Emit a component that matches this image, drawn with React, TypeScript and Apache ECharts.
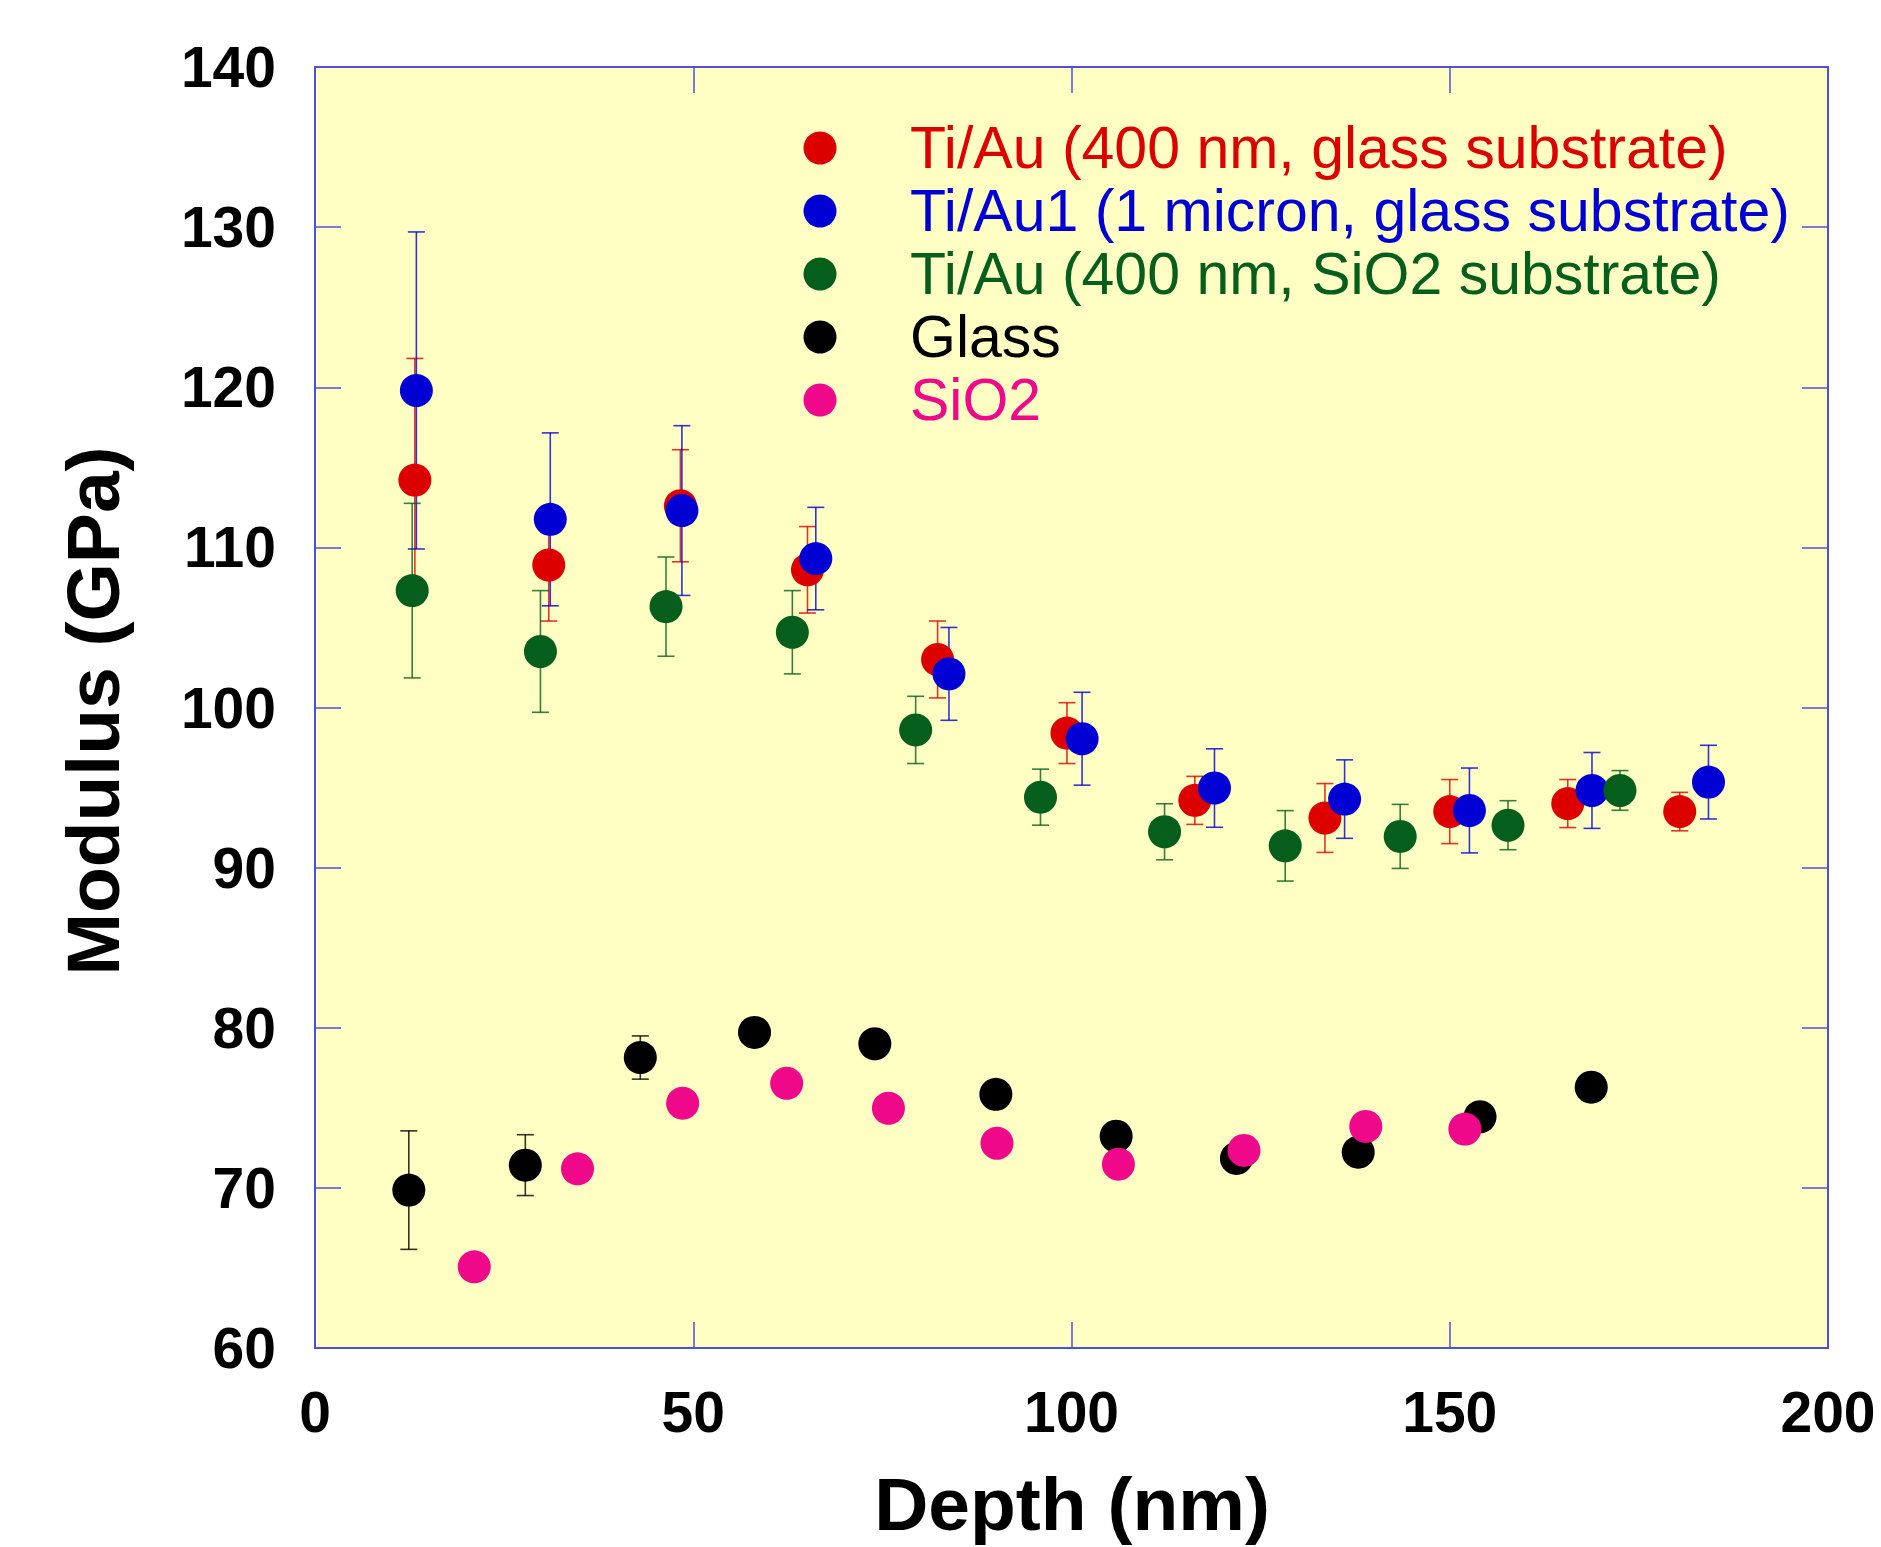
import React, { useEffect, useRef } from "react";
import * as echarts from "echarts";

// ---- Data ----
const seriesNames = [
  "Ti/Au (400 nm, glass substrate)",
  "Ti/Au1 (1 micron, glass substrate)",
  "Ti/Au (400 nm, SiO2 substrate)",
  "Glass",
  "SiO2",
];
const seriesColors = ["#DD0000", "#0000D4", "#065E1C", "#000000", "#F0088A"];

const tiAuGlassDepth = [13.2, 30.9, 48.3, 65.1, 82.3, 99.4, 116.3, 133.5, 150.0, 165.6, 180.4];
const tiAuGlassModulus = [114.2, 108.9, 112.6, 108.6, 103.0, 98.4, 94.2, 93.1, 93.5, 94.0, 93.5];
const tiAuGlassError = [7.6, 3.5, 3.5, 2.7, 2.4, 1.9, 1.5, 2.15, 2.0, 1.5, 1.2];

const tiAu1GlassDepth = [13.4, 31.1, 48.5, 66.2, 83.8, 101.4, 118.9, 136.1, 152.6, 168.8, 184.2];
const tiAu1GlassModulus = [119.8, 111.75, 112.3, 109.3, 102.1, 98.05, 94.97, 94.28, 93.57, 94.82, 95.34];
const tiAu1GlassError = [9.9, 5.4, 5.3, 3.2, 2.9, 2.9, 2.45, 2.45, 2.65, 2.37, 2.3];

const tiAuSiO2Depth = [12.85, 29.8, 46.4, 63.1, 79.4, 95.9, 112.3, 128.25, 143.45, 157.7, 172.5];
const tiAuSiO2Modulus = [107.3, 103.5, 106.3, 104.7, 98.6, 94.4, 92.24, 91.36, 91.95, 92.65, 94.82];
const tiAuSiO2Error = [5.45, 3.8, 3.1, 2.6, 2.1, 1.75, 1.75, 2.2, 2.0, 1.53, 1.24];

const glassDepth = [12.4, 27.8, 43.0, 58.1, 74.0, 90.0, 105.9, 121.8, 137.9, 154.0, 168.7];
const glassModulus = [69.86, 71.42, 78.14, 79.71, 79.0, 75.84, 73.23, 71.84, 72.23, 74.44, 76.29];
const glassError = [3.7, 1.9, 1.35, 0, 0, 0, 0, 0, 0, 0, 0];

const sio2Depth = [21.05, 34.7, 48.6, 62.35, 75.8, 90.15, 106.2, 122.8, 138.9, 152.0];
const sio2Modulus = [65.07, 71.19, 75.29, 76.53, 74.97, 72.79, 71.48, 72.34, 73.84, 73.67];
const sio2Error = [0, 0, 0, 0, 0, 0, 0, 0, 0, 0];

const xTicks = [0, 50, 100, 150, 200];
const yTicks = [60, 70, 80, 90, 100, 110, 120, 130, 140];

const xTitle = "Depth (nm)";
const yTitle = "Modulus (GPa)";

const allDepth = [tiAuGlassDepth, tiAu1GlassDepth, tiAuSiO2Depth, glassDepth, sio2Depth];
const allModulus = [tiAuGlassModulus, tiAu1GlassModulus, tiAuSiO2Modulus, glassModulus, sio2Modulus];
const allError = [tiAuGlassError, tiAu1GlassError, tiAuSiO2Error, glassError, sio2Error];

const FONT = '"Liberation Sans", Arial, Helvetica, sans-serif';
const FRAME = "#4F4FD8";

function makeErrorSeries(xs: number[], ys: number[], es: number[], color: string) {
  return {
    type: "custom",
    xAxisIndex: 0,
    yAxisIndex: 0,
    silent: true,
    encode: { x: 0, y: 1 },
    data: xs.map((x, i) => [x, ys[i], es[i]]).filter((d) => d[2] > 0),
    renderItem: (params: any, api: any) => {
      const x = api.value(0);
      const y = api.value(1);
      const e = api.value(2);
      const top = api.coord([x, y + e]);
      const bot = api.coord([x, y - e]);
      const hw = 8.5;
      const style = { stroke: color, lineWidth: 1.6, opacity: 0.8 };
      return {
        type: "group",
        children: [
          { type: "line", shape: { x1: top[0], y1: top[1], x2: bot[0], y2: bot[1] }, style },
          { type: "line", shape: { x1: top[0] - hw, y1: top[1], x2: top[0] + hw, y2: top[1] }, style },
          { type: "line", shape: { x1: bot[0] - hw, y1: bot[1], x2: bot[0] + hw, y2: bot[1] }, style },
        ],
      };
    },
  };
}

export default function App() {
  const ref = useRef<HTMLDivElement>(null);

  useEffect(() => {
    document.body.style.margin = "0";
    if (!ref.current) return;
    const chart = echarts.init(ref.current, undefined, { renderer: "svg" });

    const series: any[] = [];
    for (let k = 0; k < seriesNames.length; k++) {
      series.push(makeErrorSeries(allDepth[k], allModulus[k], allError[k], seriesColors[k]));
      series.push({
        type: "scatter",
        name: seriesNames[k],
        xAxisIndex: 0,
        yAxisIndex: 0,
        symbol: "circle",
        symbolSize: 33,
        itemStyle: { color: seriesColors[k], opacity: 1 },
        data: allDepth[k].map((x, i) => [x, allModulus[k][i]]),
      });
    }

    const legendRowY = [148, 211, 274, 337, 400];
    const legendGraphics: any[] = [];
    seriesNames.forEach((name, i) => {
      legendGraphics.push({
        type: "circle",
        shape: { cx: 820, cy: legendRowY[i], r: 16.5 },
        style: { fill: seriesColors[i] },
        z: 100,
      });
      legendGraphics.push({
        type: "text",
        x: 910,
        y: legendRowY[i],
        z: 100,
        style: {
          text: name,
          fill: seriesColors[i],
          font: `59px ${FONT}`,
          textAlign: "left",
          textVerticalAlign: "middle",
          align: "left",
          verticalAlign: "middle",
        },
      });
    });

    const baseAxis = {
      type: "value",
      axisLine: { show: true, onZero: false, lineStyle: { color: FRAME, width: 2 } },
      axisTick: { show: true, inside: true, length: 26, lineStyle: { color: FRAME, width: 1.5 } },
      splitLine: { show: false },
    };

    const option: any = {
      animation: false,
      backgroundColor: "#FFFFFF",
      grid: {
        left: 315,
        top: 67,
        width: 1513,
        height: 1281,
        show: true,
        backgroundColor: "#FFFFC4",
        borderWidth: 0,
      },
      xAxis: [
        {
          ...baseAxis,
          position: "bottom",
          min: xTicks[0],
          max: xTicks[xTicks.length - 1],
          interval: xTicks[1] - xTicks[0],
          axisLabel: {
            show: true,
            margin: 35,
            color: "#000",
            fontSize: 57,
            fontWeight: "bold",
            fontFamily: FONT,
          },
        },
        {
          ...baseAxis,
          position: "top",
          min: xTicks[0],
          max: xTicks[xTicks.length - 1],
          interval: xTicks[1] - xTicks[0],
          axisLabel: { show: false },
        },
      ],
      yAxis: [
        {
          ...baseAxis,
          position: "left",
          min: yTicks[0],
          max: yTicks[yTicks.length - 1],
          interval: yTicks[1] - yTicks[0],
          axisLabel: {
            show: true,
            margin: 39,
            color: "#000",
            fontSize: 57,
            fontWeight: "bold",
            fontFamily: FONT,
          },
        },
        {
          ...baseAxis,
          position: "right",
          min: yTicks[0],
          max: yTicks[yTicks.length - 1],
          interval: yTicks[1] - yTicks[0],
          axisLabel: { show: false },
        },
      ],
      series,
      graphic: [
        ...legendGraphics,
        {
          type: "text",
          x: 1072,
          y: 1504,
          style: {
            text: xTitle,
            fill: "#000",
            font: `bold 75px ${FONT}`,
            textAlign: "center",
            textVerticalAlign: "middle",
            align: "center",
            verticalAlign: "middle",
          },
        },
        {
          type: "text",
          x: 93,
          y: 711,
          rotation: Math.PI / 2,
          style: {
            text: yTitle,
            fill: "#000",
            font: `bold 75px ${FONT}`,
            textAlign: "center",
            textVerticalAlign: "middle",
            align: "center",
            verticalAlign: "middle",
          },
        },
      ],
    };

    chart.setOption(option);
    return () => {
      chart.dispose();
    };
  }, []);

  return <div ref={ref} style={{ width: 1881, height: 1547 }} />;
}
